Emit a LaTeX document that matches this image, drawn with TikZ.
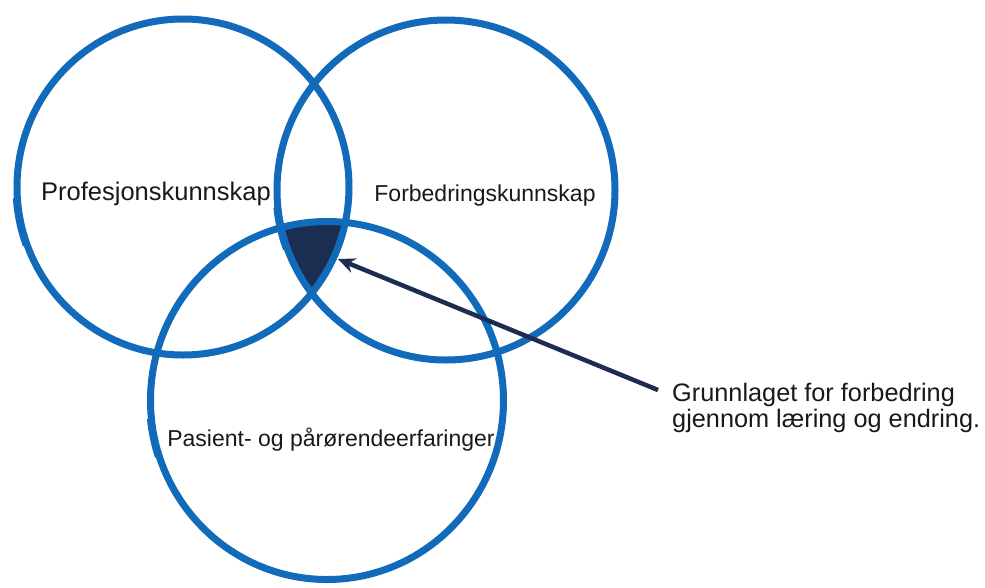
\documentclass[tikz,border=0pt]{standalone}
\usepackage{fontspec}
\setmainfont{Liberation Sans}
\usetikzlibrary{shapes.geometric,arrows.meta}
\definecolor{ringblue}{RGB}{18,106,186}
\definecolor{navy}{RGB}{27,45,80}
\definecolor{txt}{RGB}{25,25,25}
\begin{document}
\begin{tikzpicture}[x=1pt,y=-1pt,
  ring/.style={draw=ringblue, line width=7pt, ellipse, inner sep=0pt},
  sketch/.style={draw=ringblue, line width=3pt, line cap=round},
  lbl/.style={text=txt, inner sep=0pt},
  pointer/.style={draw=navy, line width=4.5pt, -{Stealth[length=17pt,width=15pt]}}]
\useasboundingbox (0,0) rectangle (985,587);
\fill[white] (0,0) rectangle (985,587);
% common region of the three rings
\begin{scope}
  \clip (183,187) ellipse [x radius=166pt, y radius=168pt];
  \clip (446,190) ellipse [x radius=169pt, y radius=170pt];
  \fill[navy] (327,400.5) ellipse [x radius=176.5pt, y radius=179pt];
\end{scope}
\node[ring, minimum width=332pt, minimum height=336pt] (c1) at (183,187) {};
\node[ring, minimum width=338pt, minimum height=340pt] (c2) at (446,190) {};
\node[ring, minimum width=353pt, minimum height=358pt] (c3) at (327,400.5) {};
% hand-drawn stroke starts
\draw[sketch] (183,187) ++(184:169pt and 171pt) arc [start angle=184, end angle=200, x radius=169pt, y radius=171pt];
\draw[sketch] (446,190) ++(186:172pt and 173pt) arc [start angle=186, end angle=200, x radius=172pt, y radius=173pt];
\draw[sketch] (327,400.5) ++(186:179.5pt and 182pt) arc [start angle=186, end angle=198, x radius=179.5pt, y radius=182pt];
\node[lbl, font=\fontsize{25.5}{30}\selectfont] (t1) at (156,194) {Profesjonskunnskap};
\node[lbl, font=\fontsize{23}{28}\selectfont] (t2) at (485,196) {Forbedringskunnskap};
\node[lbl, font=\fontsize{23}{28}\selectfont] (t3) at (331,440) {Pasient- og pårørendeerfaringer};
\node[lbl, anchor=west, align=left, font=\fontsize{25.3}{26}\selectfont] (t4) at (672,408)
  {Grunnlaget for forbedring\\gjennom læring og endring.};
\coordinate (tail) at (658,390);
\coordinate (tip) at (338,259);
\draw[pointer] (tail) -- (tip);
\end{tikzpicture}
\end{document}
